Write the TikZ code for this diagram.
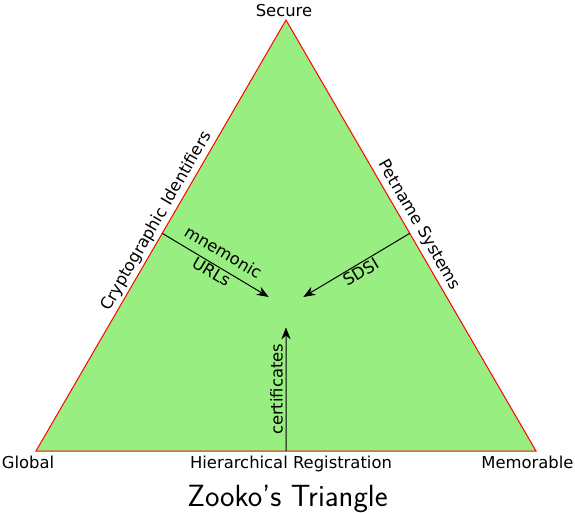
\documentclass[tikz,border=0pt]{standalone}
\usepackage{fontspec}
\setmainfont{DejaVu Sans}
\usetikzlibrary{arrows.meta,calc}
\definecolor{zgreen}{RGB}{152,238,128}
\tikzset{
  lbl/.style={font=\fontsize{12.3}{17}\selectfont, inner sep=2pt},
  arr/.style={-{Stealth[length=9pt,width=7pt,inset=3pt]}, line width=0.75pt},
}

\begin{document}
\begin{tikzpicture}[x=0.75pt,y=-0.75pt]
\useasboundingbox (0,0) rectangle (575,512);
% corners of the triangle
\coordinate (sec) at (286,20);
\coordinate (glb) at (36,451);
\coordinate (mem) at (536,451);
\coordinate (ctr) at (286,307.3);
\filldraw[fill=zgreen, draw=red, line width=0.75pt] (glb) -- (sec) -- (mem) -- cycle;
% sides
\path (glb) -- (sec) node[lbl,pos=0.52,sloped,above] (crypto) {Cryptographic Identifiers}
  coordinate[pos=0.505] (gs);
\path (sec) -- (mem) node[lbl,pos=0.49,sloped,above,inner sep=3pt] (petname) {Petname Systems}
  coordinate[pos=0.495] (sm);
\coordinate (gm) at ($(glb)!0.5!(mem)$);
% corner labels
\node[lbl,anchor=base] (secure) at (284,16.5) {Secure};
\node[lbl,anchor=base] (global) at (28,468) {Global};
\node[lbl,anchor=base] (memorable) at (527.5,468) {Memorable};
\node[lbl,anchor=base] (hier) at (291,468) {Hierarchical Registration};
% arrows to the middle
\draw[arr] (gs) -- ($(gs)!0.86!(ctr)$)
  node[lbl,midway,sloped,align=center,yshift=3pt] (murl) {mnemonic\\URLs};
\draw[arr] (sm) -- ($(sm)!0.86!(ctr)$)
  node[lbl,midway,sloped,below,inner sep=1pt] (sdsi) {SDSI};
\draw[arr] (gm) -- ($(gm)!0.86!(ctr)$)
  node[lbl,midway,rotate=90,anchor=south] (cert) {certificates};
% title
\node[anchor=base,font=\sffamily\fontsize{23}{28}\selectfont] (title) at (287.5,506.5)
  {Zooko's Triangle};
\end{tikzpicture}
\end{document}
